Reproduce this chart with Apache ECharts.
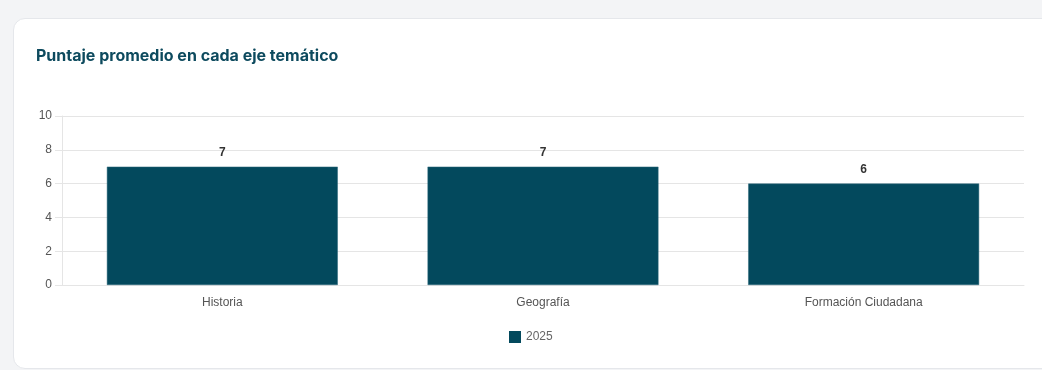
<!DOCTYPE html>
<html>
<head>
<meta charset="utf-8">
<script src="https://cdn.jsdelivr.net/npm/echarts@6/dist/echarts.min.js"></script>
<style>
  html, body { margin: 0; padding: 0; width: 1042px; height: 370px; background: #f3f4f6; overflow: hidden; }
  #card { position: absolute; left: 13px; top: 18px; width: 1060px; height: 349px; background: #fff; border: 1px solid #e5e7eb; border-radius: 12px; }
  #chart { position: absolute; left: 0; top: 0; width: 1042px; height: 370px; }
</style>
</head>
<body>
<div id="card"></div>
<div id="chart"></div>
<script>
const categories = ['Historia', 'Geografía', 'Formación Ciudadana'];
const seriesName = '2025';
const values = [7, 7, 6];
const yTicks = { min: 0, max: 10, interval: 2 };
const titleText = 'Puntaje promedio en cada eje temático';

const chart = echarts.init(document.getElementById('chart'), null, { renderer: 'canvas' });
const labelFont = '"Liberation Sans", Arial, Helvetica, sans-serif';
chart.setOption({
  backgroundColor: 'transparent',
  animation: false,
  title: {
    text: titleText,
    left: 31, top: 43,
    textStyle: { fontFamily: 'Inter, Roboto, sans-serif', fontSize: 16, fontWeight: 'bold', color: '#0d4a5e' }
  },
  legend: {
    data: [seriesName],
    top: 326, left: 504,
    icon: 'rect', itemWidth: 12, itemHeight: 12, itemGap: 10,
    itemStyle: { borderWidth: 0 },
    textStyle: { fontFamily: labelFont, fontSize: 12, color: '#666' }
  },
  grid: { left: 62, right: 18, top: 116, bottom: 85, containLabel: false },
  xAxis: {
    type: 'category',
    data: categories,
    axisLine: { show: true, lineStyle: { color: '#e5e5e5' } },
    axisTick: { show: false },
    axisLabel: { fontFamily: labelFont, fontSize: 12, color: '#555', margin: 12 },
    splitLine: { show: false }
  },
  yAxis: {
    type: 'value',
    min: yTicks.min, max: yTicks.max, interval: yTicks.interval,
    axisLine: { show: true, lineStyle: { color: '#e5e5e5' } },
    axisTick: { show: true, length: 7, lineStyle: { color: '#e5e5e5' } },
    axisLabel: { fontFamily: labelFont, fontSize: 12, color: '#555', margin: 10 },
    splitLine: { show: true, lineStyle: { color: '#e5e5e5' } }
  },
  series: [{
    name: seriesName,
    type: 'bar',
    data: values,
    barWidth: '72%',
    itemStyle: { color: '#03495d', borderColor: '#2a6678', borderWidth: 0.5 },
    label: {
      show: true, position: 'top', distance: 8,
      fontFamily: labelFont, fontSize: 12, fontWeight: 'bold', color: '#333'
    }
  }]
});
</script>
</body>
</html>
